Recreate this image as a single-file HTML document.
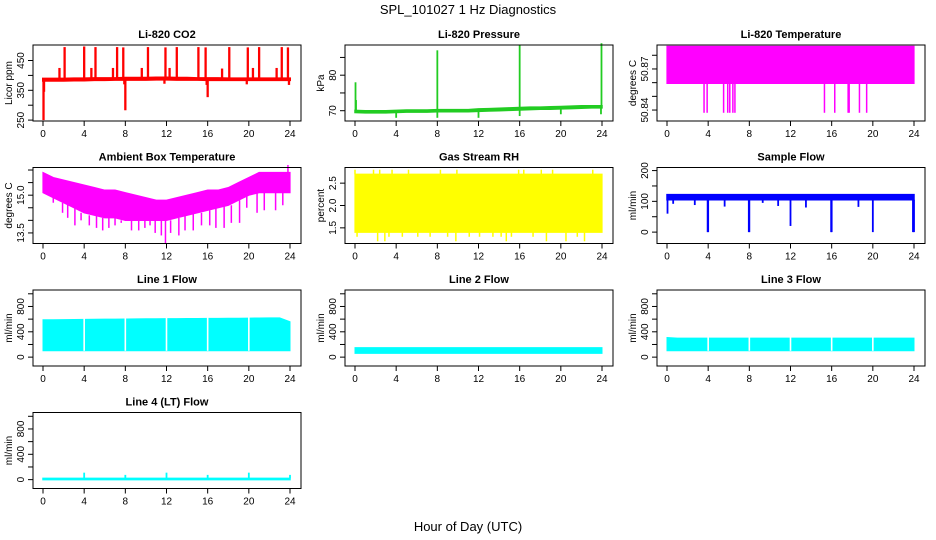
<!DOCTYPE html>
<html><head><meta charset="utf-8"><style>
body{margin:0;background:#fff;width:936px;height:540px;overflow:hidden}
svg{display:block;font-family:"Liberation Sans",Arial,sans-serif}
</style></head><body>
<svg id="chart" width="936" height="540" viewBox="0 0 936 540" xmlns="http://www.w3.org/2000/svg">
<text x="468" y="14" text-anchor="middle" font-size="13">SPL_101027  1 Hz Diagnostics</text>
<text x="468" y="531" text-anchor="middle" font-size="13">Hour of Day (UTC)</text>
</svg>
<script>
const hours = [0,1,2,3,4,5,6,7,8,9,10,11,12,13,14,15,16,17,18,19,20,21,22,23,24];
const xTicks = [0,4,8,12,16,20,24];
// CO2
const co2Lo = [382,382,382,383,383,384,384,385,385,385,385,386,386,385,385,385,384,384,384,384,384,384,384,384,384];
const co2Hi = [389,389,389,390,390,391,391,391,392,392,392,393,393,392,392,391,391,391,390,390,390,390,390,390,390];
const co2Spikes = [[0.05,250],[0.1,345],[2.1,495],[4.0,497],[5.1,495],[7.2,495],[7.8,494],[10.2,495],[11.9,494],[13.0,495],[15.1,495],[15.8,494],[18.1,495],[19.9,494],[21.0,495],[23.2,495],[23.8,494],[1.6,425],[4.7,425],[6.8,425],[9.6,425],[12.3,425],[17.4,423],[20.4,425],[22.7,425],[8.0,283],[16.0,327],[7.9,370],[11.8,372],[15.9,368],[19.8,370],[23.9,368]];
// Pressure
const presLo = [69.5,69.4,69.4,69.4,69.5,69.6,69.6,69.6,69.7,69.7,69.7,69.7,69.8,69.9,70.0,70.1,70.2,70.3,70.4,70.4,70.5,70.6,70.7,70.8,70.8];
const presHi = [70.1,70.0,70.0,70.0,70.1,70.2,70.2,70.2,70.3,70.3,70.3,70.3,70.5,70.6,70.7,70.8,70.9,71.0,71.0,71.1,71.2,71.3,71.4,71.4,71.4];
const presSpikes = [[0.05,78],[0.1,73],[8.0,87],[16.0,88.5],[23.95,89],[4.0,68],[8.0,68],[12.0,68],[16.0,68.5],[20.0,69],[23.9,69]];
// Li-820 temperature
const tempLo = [50.8595,50.8595,50.8595,50.8595,50.8595,50.8595,50.8595,50.8595,50.8595,50.8595,50.8595,50.8595,50.8595,50.8595,50.8595,50.8595,50.8595,50.8595,50.8595,50.8595,50.8595,50.8595,50.8595,50.8595,50.8595];
const tempHi = [50.8865,50.8865,50.8865,50.8865,50.8865,50.8865,50.8865,50.8865,50.8865,50.8865,50.8865,50.8865,50.8865,50.8865,50.8865,50.8865,50.8865,50.8865,50.8865,50.8865,50.8865,50.8865,50.8865,50.8865,50.8865];
const tempSpikes = [[3.6,50.838],[3.9,50.838],[5.5,50.838],[5.9,50.838],[6.1,50.838],[6.4,50.838],[6.6,50.838],[15.3,50.838],[16.3,50.838],[17.6,50.838],[17.7,50.838],[18.7,50.838],[19.4,50.838]];
// Ambient box temperature
const ambLo = [15.1,14.9,14.7,14.5,14.3,14.2,14.1,14.1,14.0,14.0,14.0,14.0,14.0,14.1,14.2,14.3,14.4,14.5,14.6,14.8,15.0,15.1,15.1,15.1,15.1];
const ambHi = [15.9,15.7,15.6,15.5,15.4,15.3,15.2,15.2,15.1,15.0,14.9,14.8,14.8,14.9,15.0,15.1,15.2,15.2,15.3,15.5,15.7,15.9,15.9,15.9,15.9];
const ambSpikes = [[1.0,14.7],[1.9,14.3],[2.4,14.1],[3.1,13.8],[3.7,14.0],[4.5,13.8],[5.2,13.7],[5.8,13.6],[6.4,13.7],[7.0,13.8],[7.6,13.9],[8.6,13.6],[9.3,13.6],[9.9,13.7],[10.4,13.8],[10.9,13.5],[11.5,13.4],[11.9,13.1],[12.4,13.5],[13.2,13.4],[13.8,13.6],[14.6,13.6],[15.4,13.8],[16.2,13.8],[16.8,13.7],[17.6,13.7],[18.3,13.9],[19.1,13.9],[19.8,14.5],[20.8,14.3],[21.5,14.4],[22.6,14.4],[23.3,14.6],[23.8,16.2]];
// Gas stream RH
const rhLo = [1.4,1.4,1.4,1.4,1.4,1.4,1.4,1.4,1.4,1.4,1.4,1.4,1.4,1.4,1.4,1.4,1.4,1.4,1.4,1.4,1.4,1.4,1.4,1.4,1.4];
const rhHi = [2.7,2.7,2.7,2.7,2.7,2.7,2.7,2.7,2.7,2.7,2.7,2.7,2.7,2.7,2.7,2.7,2.7,2.7,2.7,2.7,2.7,2.7,2.7,2.7,2.7];
const rhSpikes = [[0.0,2.8],[0.2,1.3],[1.8,2.8],[2.2,1.2],[2.4,2.8],[2.9,1.2],[3.3,1.3],[3.6,2.8],[4.6,1.3],[5.2,2.8],[6.1,1.3],[7.3,1.3],[8.3,2.8],[9.0,1.3],[9.8,1.2],[9.9,2.8],[11.1,1.3],[12.1,1.3],[13.4,1.3],[14.2,1.3],[14.7,1.2],[15.2,1.3],[15.9,2.8],[16.4,2.8],[17.3,1.3],[18.1,2.8],[18.6,1.2],[19.2,2.8],[20.5,1.2],[21.6,1.3],[22.3,1.2],[23.1,2.8]];
// Sample flow
const sfLo = [105,105,105,105,105,105,105,105,105,105,105,105,105,105,105,105,105,105,105,105,105,105,105,105,105];
const sfHi = [122,122,122,122,122,122,122,122,122,122,122,122,122,122,122,122,122,122,122,122,122,122,122,122,122];
const sfSpikes = [[0.05,60],[4.0,0],[3.95,0],[8.0,0],[7.95,0],[12.0,20],[15.95,0],[16.0,0],[20.0,0],[23.9,0],[24.0,0],[0.6,92],[2.7,88],[5.6,83],[9.3,95],[10.8,85],[13.5,80],[18.6,82]];
// Line flows
const l1Lo = [100,100,100,100,100,100,100,100,100,100,100,100,100,100,100,100,100,100,100,100,100,100,100,100,100];
const l1Hi = [590,590,592,594,596,598,600,600,602,604,606,606,608,608,610,610,612,612,614,614,616,618,620,620,560];
const l2Lo = [60,60,60,60,60,60,60,60,60,60,60,60,60,60,60,60,60,60,60,60,60,60,60,60,60];
const l2Hi = [150,150,150,150,150,150,150,150,150,150,150,150,150,150,150,150,150,150,150,150,150,150,150,150,150];
const l3Lo = [100,100,100,100,100,100,100,100,100,100,100,100,100,100,100,100,100,100,100,100,100,100,100,100,100];
const l3Hi = [310,300,300,300,300,300,300,300,300,300,300,300,300,300,300,300,300,300,300,300,300,300,300,300,300];
const l4Lo = [0,0,0,0,0,0,0,0,0,0,0,0,0,0,0,0,0,0,0,0,0,0,0,0,0];
const l4Hi = [20,20,20,20,20,20,20,20,20,20,20,20,20,20,20,20,20,20,20,20,20,20,20,20,20];
const l4Spikes = [[4.0,110],[8.0,75],[12.0,110],[16.0,75],[20.0,110],[24.0,75]];
const flowGaps = [4,8,12,16,20];

const colX = [33,345,657], rowY = [45,167.5,290,412.5], PW = 268, PH = 76;
const panels = [
 {name:'co2',title:'Li-820 CO2',ylab:'Licor ppm',c:0,r:0,ymin:247,ymax:502,ticks:[250,300,350,400,450],labels:[250,350,450],lo:co2Lo,hi:co2Hi,spikes:co2Spikes,color:'#ff0000',sw:2},
 {name:'pressure',title:'Li-820 Pressure',ylab:'kPa',c:1,r:0,ymin:67.1,ymax:88.5,ticks:[70,75,80,85],labels:[70,80],lo:presLo,hi:presHi,spikes:presSpikes,color:'#22cc22',sw:1.5},
 {name:'licor-temp',title:'Li-820 Temperature',ylab:'degrees C',c:2,r:0,ymin:50.832,ymax:50.8875,ticks:[50.84,50.85,50.86,50.87,50.88],labels:[50.84,50.87],lo:tempLo,hi:tempHi,spikes:tempSpikes,color:'#ff00ff',sw:1.2,fmt:v=>v.toFixed(2)},
 {name:'ambient-temp',title:'Ambient Box Temperature',ylab:'degrees C',c:0,r:1,ymin:13.08,ymax:16.1,ticks:[13.5,14,14.5,15,15.5,16],labels:[13.5,15],lo:ambLo,hi:ambHi,spikes:ambSpikes,color:'#ff00ff',sw:1.2,fmt:v=>v.toFixed(1)},
 {name:'gas-rh',title:'Gas Stream RH',ylab:'percent',c:1,r:1,ymin:1.15,ymax:2.85,ticks:[1.5,2,2.5],labels:[1.5,2,2.5],lo:rhLo,hi:rhHi,spikes:rhSpikes,color:'#ffff00',sw:1.2,fmt:v=>v.toFixed(1)},
 {name:'sample-flow',title:'Sample Flow',ylab:'ml/min',c:2,r:1,ymin:-37,ymax:210,ticks:[0,50,100,150,200],labels:[0,100,200],lo:sfLo,hi:sfHi,spikes:sfSpikes,color:'#0000ff',sw:1.5},
 {name:'line1-flow',title:'Line 1 Flow',ylab:'ml/min',c:0,r:2,ymin:-140,ymax:1060,ticks:[0,200,400,600,800,1000],labels:[0,400,800],lo:l1Lo,hi:l1Hi,spikes:[],gaps:flowGaps,color:'#00ffff',sw:1},
 {name:'line2-flow',title:'Line 2 Flow',ylab:'ml/min',c:1,r:2,ymin:-140,ymax:1060,ticks:[0,200,400,600,800,1000],labels:[0,400,800],lo:l2Lo,hi:l2Hi,spikes:[],color:'#00ffff',sw:1},
 {name:'line3-flow',title:'Line 3 Flow',ylab:'ml/min',c:2,r:2,ymin:-140,ymax:1060,ticks:[0,200,400,600,800,1000],labels:[0,400,800],lo:l3Lo,hi:l3Hi,spikes:[],gaps:flowGaps,color:'#00ffff',sw:1},
 {name:'line4-flow',title:'Line 4 (LT) Flow',ylab:'ml/min',c:0,r:3,ymin:-140,ymax:1060,ticks:[0,200,400,600,800,1000],labels:[0,400,800],lo:l4Lo,hi:l4Hi,spikes:l4Spikes,color:'#00ffff',sw:1.5},
];
const svg = document.getElementById('chart');
const NS='http://www.w3.org/2000/svg';
function mk(tag,attrs,parent){const e=document.createElementNS(NS,tag);for(const k in attrs)e.setAttribute(k,attrs[k]);parent.appendChild(e);return e;}
panels.forEach(p=>{
  const L=colX[p.c], T=rowY[p.r], R=L+PW, B=T+PH;
  const g=mk('g',{},svg);
  
  
  const xs=h=>L+10+(h/24)*(PW-21);
  const ys=v=>B-(v-p.ymin)/(p.ymax-p.ymin)*PH;
  let pts=[];
  hours.forEach((h,i)=>pts.push(xs(h)+','+ys(p.hi[i])));
  for(let i=hours.length-1;i>=0;i--)pts.push(xs(hours[i])+','+ys(p.lo[i]));
  const band=mk('polygon',{points:pts.join(' '),fill:p.color,stroke:p.color,'stroke-width':p.sw},g);
  
  
  (p.gaps||[]).forEach(h=>{
    const gp=mk('rect',{x:xs(h)-0.8,y:ys(p.hi[h])-1,width:1.6,height:ys(p.lo[h])-ys(p.hi[h])+1,fill:'#fff'},g);
    
    
  });
  p.spikes.forEach(s=>{
    const i=Math.min(24,Math.round(s[0]));
    const base=s[1]>p.hi[i]?p.hi[i]:p.lo[i];
    const ln=mk('line',{x1:xs(s[0]),x2:xs(s[0]),y1:ys(base),y2:ys(s[1]),stroke:p.color,'stroke-width':p.sw+0.3},g);
    
    
  });
  const box=mk('rect',{x:L,y:T,width:PW,height:PH,fill:'none',stroke:'#000','stroke-width':1},g);
  
  
  const tt=mk('text',{x:L+PW/2,y:T-7,'text-anchor':'middle','font-size':11,'font-weight':'bold'},g);
  tt.textContent=p.title;
  
  
  xTicks.forEach(h=>{
    mk('line',{x1:xs(h),x2:xs(h),y1:B,y2:B+5,stroke:'#000','stroke-width':1},g);
    const t=mk('text',{x:xs(h),y:B+16,'text-anchor':'middle','font-size':10},g);
    t.textContent=h;
    
    
  });
  p.ticks.forEach(v=>{
    mk('line',{x1:L-5,x2:L,y1:ys(v),y2:ys(v),stroke:'#000','stroke-width':1},g);
  });
  p.labels.forEach(v=>{
    const y=ys(v);
    const t=mk('text',{x:L-9,y:y,'text-anchor':'middle','font-size':10,transform:`rotate(-90 ${L-9} ${y})`},g);
    t.textContent=p.fmt?p.fmt(v):v;
    
    
  });
  const yl=mk('text',{x:L-21,y:T+PH/2,'text-anchor':'middle','font-size':10,transform:`rotate(-90 ${L-21} ${T+PH/2})`},g);
  yl.textContent=p.ylab;
  
  
});
</script>
</body></html>
